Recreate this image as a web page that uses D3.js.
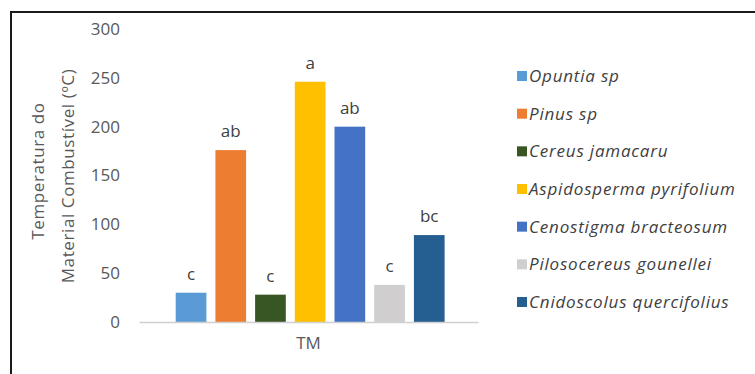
<!DOCTYPE html>
<html>
<head>
<meta charset="utf-8">
<script src="https://cdn.jsdelivr.net/npm/d3@7"></script>
<style>
  html, body { margin: 0; padding: 0; background: #fff; }
  svg { display: block; }
</style>
</head>
<body>
<svg id="chart" width="755" height="374"></svg>
<script>
// Fuel temperature by species (TM), with significance letters
const species = [
  "Opuntia sp",
  "Pinus sp",
  "Cereus jamacaru",
  "Aspidosperma pyrifolium",
  "Cenostigma bracteosum",
  "Pilosocereus gounellei",
  "Cnidoscolus quercifolius"
];
const temperatures = [30, 176, 28, 246, 200, 38, 89];
const letters = ["c", "ab", "c", "a", "ab", "c", "bc"];
const colors = ["#5B9BD5", "#ED7D31", "#375623", "#FFC000", "#4472C4", "#D0CECE", "#255E91"];
const yTicks = [0, 50, 100, 150, 200, 250, 300];
const category = "TM";

const svg = d3.select("#chart");
const font = "'Open Sans', 'Noto Sans', sans-serif";

// outer frame: top and left edges
svg.append("path")
  .attr("d", "M11,374 V12 H755")
  .attr("fill", "none")
  .attr("stroke", "#1a1a1a")
  .attr("stroke-width", 2);

const plot = { left: 139, right: 478, top: 29, bottom: 322 };

const y = d3.scaleLinear().domain([0, 300]).range([plot.bottom, plot.top]);
const x0 = d3.scaleBand().domain([category]).range([plot.left, plot.right]);
const x1 = d3.scaleBand().domain(species)
  .range([x0(category) + 36.7, x0(category) + x0.bandwidth() - 33.4])
  .paddingInner(0.227).paddingOuter(0);

// y axis labels (no axis line)
const yAxis = d3.axisLeft(y).tickValues(yTicks).tickSize(0).tickPadding(0);
const gy = svg.append("g").attr("transform", `translate(${plot.left - 19},0)`).call(yAxis);
gy.select(".domain").remove();
gy.selectAll("text")
  .attr("fill", "#595959")
  .style("font-family", font)
  .style("font-size", "17px");

// bars
const g = svg.append("g");
g.selectAll("rect.bar")
  .data(species)
  .join("rect")
  .attr("class", "bar")
  .attr("x", d => x1(d))
  .attr("width", x1.bandwidth())
  .attr("y", (d, i) => y(temperatures[i]))
  .attr("height", (d, i) => y(0) - y(temperatures[i]))
  .attr("fill", (d, i) => colors[i]);

// significance letters
g.selectAll("text.lbl")
  .data(species)
  .join("text")
  .attr("class", "lbl")
  .attr("x", d => x1(d) + x1.bandwidth() / 2)
  .attr("y", (d, i) => y(temperatures[i]) - 13)
  .attr("text-anchor", "middle")
  .attr("fill", "#404040")
  .style("font-family", font)
  .style("font-size", "17px")
  .text((d, i) => letters[i]);

// x axis baseline and category label
const xAxis = d3.axisBottom(x0).tickSize(0).tickPadding(15);
const gx = svg.append("g").attr("transform", `translate(0,${plot.bottom})`).call(xAxis);
gx.select(".domain").attr("stroke", "#d0d0d0").attr("stroke-width", 1.3);
gx.selectAll("text")
  .attr("fill", "#595959")
  .style("font-family", font)
  .style("font-size", "17px");

// y axis title (two lines)
const title = svg.append("text")
  .attr("transform", "rotate(-90)")
  .attr("text-anchor", "middle")
  .attr("fill", "#595959")
  .style("font-family", font)
  .style("font-size", "17px")
  .style("letter-spacing", "0.6px");
title.append("tspan").attr("x", -171).attr("y", 44).text("Temperatura do");
title.append("tspan").attr("x", -176).attr("y", 74).text("Material Combustível  (ºC)");

// legend
const legendY = d3.scalePoint().domain(species).range([76, 302]);
const lg = svg.append("g");
const items = lg.selectAll("g").data(species).join("g")
  .attr("transform", d => `translate(517,${legendY(d)})`);
items.append("rect")
  .attr("x", 0).attr("y", -5)
  .attr("width", 10).attr("height", 10)
  .attr("fill", (d, i) => colors[i]);
items.append("text")
  .attr("x", 12).attr("y", 0)
  .attr("dy", "0.35em")
  .attr("fill", "#404040")
  .style("font-family", font)
  .style("font-style", "italic")
  .style("font-size", "17px")
  .style("letter-spacing", "0.8px")
  .text(d => d);
</script>
</body>
</html>
